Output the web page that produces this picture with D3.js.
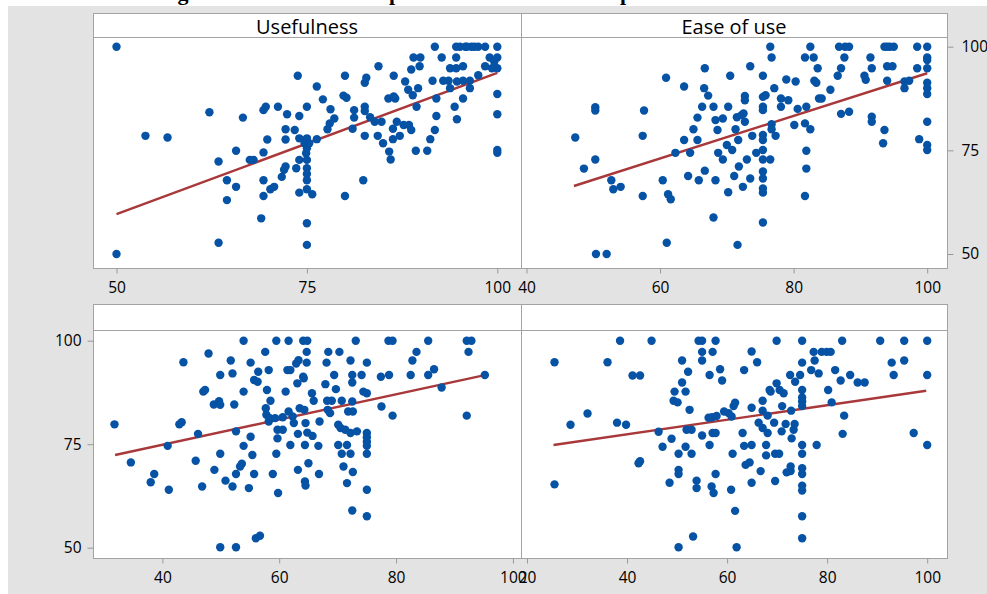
<!DOCTYPE html>
<html><head><meta charset="utf-8">
<script src="https://cdn.jsdelivr.net/npm/d3@7"></script>
<style>html,body{margin:0;padding:0;background:#fff;} svg{display:block;}</style>
</head><body><svg id="c" width="987" height="594"></svg>
<script>
// ---------------- data ----------------
const titleText = "Figure 2. The relationship between intention and perceived usefulness";
const panelTitles = ["Usefulness", "Ease of use", "", ""];
const yTicks = [50, 75, 100];
const xTicksUsefulness = [50, 75, 100];
const xTicksEase = [40, 60, 80, 100];
const xTicksPanel3 = [40, 60, 80, 100];
const xTicksPanel4 = [20, 40, 60, 80, 100];

const ptsUsefulness = [[50,100],[50,50],[53.8,78.5],[56.7,78.1],[62.2,84.2],[63.4,72.3],[63.4,52.7],[64.5,67.8],[64.5,63.0],[65.7,74.9],[65.7,66.2],[66.6,82.9],[67.5,72.7],[68.0,72.7],[69.0,58.6],[69.3,84.7],[69.6,85.5],[69.3,74.5],[69.3,67.8],[69.3,64.0],[69.8,77.6],[70.2,65.6],[70.7,66.2],[71.2,85.5],[71.7,68.6],[72.0,70.3],[72.2,71.1],[72.2,80.1],[72.2,77.6],[72.4,83.7],[73.4,79.9],[73.6,70.7],[73.8,93.0],[74.0,83.3],[74.0,77.9],[74.0,72.7],[74.0,64.8],[74.7,76.7],[74.9,74.3],[75,85.5],[75,77.9],[75,75.5],[75,72.7],[75,70.7],[75,69.3],[75,67.8],[75,65.6],[75,57.4],[75,52.2],[75.3,76.7],[75.7,64.4],[76.3,77.7],[76.3,90.4],[77.1,87.3],[77.7,80.1],[78.0,81.5],[78.1,84.9],[78.6,82.7],[79.8,88.2],[80.0,93.0],[80.0,64.0],[80.2,87.7],[81.0,80.2],[81.2,84.7],[81.2,82.9],[82.4,67.8],[82.6,91.3],[82.8,92.5],[82.6,85.5],[82.6,84.5],[82.6,78.5],[83.3,83.0],[83.9,81.9],[84.3,78.5],[84.4,95.3],[84.8,81.9],[85.0,76.7],[85.7,87.5],[85.8,74.7],[86.0,72.8],[86.3,80.2],[86.4,93.0],[86.4,88.0],[86.6,87.5],[86.3,77.7],[86.8,81.9],[87.2,78.5],[87.7,81.1],[87.9,91.6],[88.3,89.6],[88.4,81.1],[88.7,79.9],[88.9,88.3],[88.7,94.5],[89.0,97.4],[89.3,74.9],[89.4,85.5],[89.6,90.0],[89.8,95.3],[89.9,97.4],[90.8,74.9],[91.2,77.7],[91.5,91.8],[91.8,100],[91.8,79.9],[92.0,87.5],[92.0,83.3],[92.7,97.4],[92.9,91.8],[93.6,91.8],[93.8,90.0],[93.8,94.8],[94.4,85.5],[94.6,100],[94.6,97.4],[94.6,94.8],[94.7,91.6],[94.7,82.5],[95.5,95.3],[95.5,87.5],[95.5,91.8],[95.1,100],[95.8,100],[96.4,90.0],[96.6,100],[96.4,91.8],[97.5,93.1],[97.5,100],[98.4,100],[98.4,95.3],[99.0,97.4],[100,100],[100,97.4],[100,94.8],[100,88.6],[100,83.7],[100,75.1],[100,74.4],[99.3,94.8],[99.6,96.4],[96.0,100],[97.0,100]];

const ptsEase = [[47.3,78.1],[48.6,70.6],[50.3,85.4],[50.3,84.6],[50.3,72.8],[50.4,50],[52.0,50],[52.7,67.8],[53.0,65.6],[54.1,66.2],[57.4,64.0],[57.4,78.5],[57.6,84.6],[60.4,67.8],[60.9,92.5],[61.0,52.7],[61.2,64.4],[61.6,63.2],[62.3,74.4],[63.6,90.4],[63.6,77.5],[64.2,68.8],[64.5,74.4],[65.0,80.1],[65.6,82.9],[65.6,77.5],[65.8,67.8],[66.3,85.5],[66.6,90.0],[66.7,94.8],[66.7,70.1],[67.2,88.2],[68.0,58.8],[68.0,85.5],[68.3,67.8],[68.3,82.3],[68.6,79.9],[68.7,74.4],[69.4,72.8],[69.4,82.7],[70.0,76.3],[70.2,85.5],[70.2,64.9],[70.5,93.0],[70.8,75.1],[71.1,68.8],[71.3,80.1],[71.5,83.0],[71.6,52.2],[71.7,77.5],[71.8,71.1],[72.2,83.5],[72.5,83.9],[72.4,66.2],[72.7,81.9],[72.7,88.1],[72.7,87.1],[73.0,72.8],[73.5,95.3],[73.5,68.2],[73.8,78.5],[74.4,74.4],[75.4,93.0],[75.4,87.9],[75.4,85.5],[75.4,84.7],[75.4,78.7],[75.4,77.5],[75.4,75.1],[75.4,72.8],[75.4,69.9],[75.4,68.2],[75.4,65.8],[75.4,64.8],[75.4,57.6],[75.8,88.3],[76.5,100],[76.5,72.8],[76.7,97.4],[76.7,81.3],[76.7,80.1],[77.1,90.0],[77.3,78.5],[78.1,85.5],[78.1,87.5],[78.9,92.1],[79.2,87.1],[80.1,81.1],[80.3,91.6],[80.6,85.0],[81.7,97.4],[81.7,81.5],[81.7,64.0],[81.9,85.5],[81.9,74.9],[81.9,70.6],[82.5,100],[82.5,80.1],[83.0,97.4],[83.1,91.8],[83.4,91.3],[83.6,94.8],[83.8,87.5],[84.2,87.5],[85.5,89.6],[86.6,93.0],[86.8,100],[87.1,94.8],[87.1,83.8],[87.6,97.4],[87.7,100],[88.3,84.3],[88.3,100],[90.6,93.0],[90.8,92.0],[91.5,97.4],[91.7,94.8],[91.7,83.1],[91.7,81.9],[93.4,76.7],[93.6,79.9],[93.6,100],[94.0,91.8],[94.0,95.3],[94.4,100],[95.0,100],[94.8,95.3],[96.6,90.0],[96.6,91.6],[97.3,91.8],[98.5,100],[98.5,94.8],[98.8,77.7],[100,100],[100,97.4],[100,96.8],[100,94.8],[100,91.3],[100,90.0],[100,88.6],[100,81.9],[100,76.3],[100,75.1],[94.0,100]];

const ptsPanel3 = [[31.8,79.8],[34.6,70.6],[38.0,65.8],[38.6,67.8],[40.9,74.6],[41.1,64.0],[42.9,79.8],[43.3,80.3],[43.6,94.8],[45.7,71.0],[46.1,77.5],[46.8,64.8],[47.0,87.7],[47.3,88.1],[47.9,96.9],[48.8,84.6],[48.9,68.8],[49.7,85.4],[49.9,91.7],[49.9,84.5],[49.9,72.7],[49.9,50.1],[50.8,66.2],[51.7,95.2],[52.0,92.1],[52.0,64.8],[52.3,84.6],[52.6,50.1],[52.6,78.1],[52.6,67.8],[53.3,69.6],[53.6,70.3],[53.9,100],[53.9,87.7],[53.9,74.6],[54.8,64.4],[55.1,94.7],[55.1,76.8],[55.4,72.4],[55.7,90.5],[55.7,67.8],[56.0,52.3],[56.3,90.1],[56.4,92.5],[56.7,52.9],[57.6,97.3],[57.7,83.7],[57.8,82.1],[57.9,88.1],[58.2,92.9],[58.2,80.5],[58.4,81.3],[58.5,85.5],[58.9,67.8],[59.3,81.3],[59.5,72.7],[59.5,100],[59.7,78.5],[59.7,76.4],[59.8,63.2],[60.6,78.5],[60.6,81.5],[61.1,87.7],[61.4,92.9],[61.6,100],[61.6,82.9],[61.9,74.8],[61.9,92.9],[62.3,81.7],[62.5,80.1],[62.9,94.5],[63.1,89.7],[63.2,68.8],[63.2,77.5],[63.3,95.3],[63.5,83.7],[64.1,100],[64.1,91.3],[64.2,90.9],[64.3,83.3],[64.4,66.0],[64.4,74.8],[64.5,80.1],[64.5,65.0],[64.7,94.7],[64.7,97.3],[64.8,100],[64.8,77.8],[65.0,70.4],[65.6,87.3],[65.7,77.0],[65.9,85.5],[66.7,74.6],[66.8,67.8],[66.9,80.5],[67.9,89.5],[68.1,94.7],[68.2,85.5],[68.3,83.3],[68.4,97.3],[68.7,82.5],[69.0,85.5],[69.4,91.7],[69.7,88.3],[70.1,79.7],[70.1,74.8],[70.3,97.3],[70.5,78.9],[70.7,85.5],[70.7,72.7],[71.0,69.6],[71.3,78.5],[71.6,74.8],[71.6,65.6],[71.8,82.9],[72.2,95.2],[72.2,72.7],[72.2,77.7],[72.5,85.3],[72.5,89.9],[72.5,91.7],[72.5,59.0],[72.6,68.3],[72.6,82.9],[73.1,100],[73.3,78.1],[74.1,91.7],[74.4,87.7],[75,94.7],[75,87.3],[75,77.7],[75,76.7],[75,75.6],[75,74.6],[75,72.7],[75,64.0],[75,57.6],[77.4,91.3],[77.5,84.1],[78.8,91.7],[78.7,100],[79.4,100],[79.4,81.9],[82.5,91.7],[82.8,95.2],[83.5,97.3],[85.5,100],[85.5,91.7],[86.5,93.1],[87.8,88.7],[92.1,81.9],[92.1,100],[92.9,100],[92.4,97.3],[95.2,91.7]];

const ptsPanel4 = [[25.5,94.8],[25.5,65.3],[28.7,79.7],[32.1,82.4],[36.1,94.8],[38.0,80.2],[38.6,100],[39.8,79.7],[41.1,91.6],[42.6,91.6],[42.3,70.4],[42.6,70.9],[44.9,100],[46.3,78.0],[47.1,74.4],[48.5,65.7],[48.9,76.3],[49.3,85.5],[49.5,87.7],[50.1,85.1],[50.3,72.7],[50.3,68.8],[50.3,67.8],[50.3,50.1],[51.0,95.2],[51.0,89.9],[51.7,87.7],[51.7,74.4],[51.9,78.5],[52.2,92.5],[52.5,83.3],[52.9,72.7],[52.9,78.5],[53.2,52.7],[53.9,66.2],[53.9,64.4],[54.3,100],[55.0,100],[55.0,97.3],[55.0,95.2],[55.0,77.1],[56.3,81.4],[56.5,91.7],[56.5,74.8],[56.9,64.8],[57.0,81.5],[57.1,77.7],[57.3,63.2],[57.7,100],[57.1,97.3],[57.7,77.7],[57.7,67.8],[57.9,81.8],[58.6,93.1],[59.0,90.4],[59.4,82.9],[60.3,82.5],[60.8,64.0],[60.9,81.7],[61.1,72.7],[61.3,84.2],[61.6,85.0],[61.6,58.9],[61.9,50.1],[63.1,77.7],[63.4,92.9],[63.4,74.6],[63.7,70.0],[64.5,70.6],[64.9,97.4],[64.9,83.8],[64.9,74.8],[64.9,65.7],[66.0,94.8],[66.3,80.2],[66.7,68.5],[67.1,85.5],[67.1,83.1],[67.1,78.9],[67.8,74.8],[67.8,72.3],[68.1,81.9],[68.1,77.7],[68.5,88.1],[68.7,87.7],[69.4,80.2],[69.6,66.1],[69.6,72.7],[69.9,100],[69.9,89.7],[70.4,72.7],[70.5,88.1],[70.9,78.1],[71.0,84.2],[71.3,87.3],[71.7,79.9],[71.9,68.2],[72.6,91.7],[72.7,68.5],[72.7,69.6],[72.8,83.1],[72.9,76.4],[73.3,78.5],[73.5,79.9],[73.6,90.1],[74.6,91.7],[75,100],[75,94.7],[75,88.1],[75,86.3],[75,85.3],[75,84.2],[75,74.8],[75,72.7],[75,69.2],[75,67.8],[75,65.0],[75,63.8],[75,57.6],[75,52.3],[76.8,92.9],[77.3,97.3],[77.5,95.2],[77.9,74.8],[78.3,92.1],[78.9,97.3],[79.9,97.3],[80.7,97.3],[80.2,88.1],[80.9,85.1],[81.6,92.9],[82.7,90.4],[83.0,100],[83.1,77.5],[83.4,81.9],[84.6,91.7],[86.1,89.9],[87.5,89.9],[90.6,100],[92.9,94.7],[93.3,91.7],[95.4,100],[95.4,95.2],[97.3,77.7],[100,100],[100,91.7],[100,74.8]];

const fitUsefulness = [[50,59.6],[100,93.7]];
const fitEase = [[47.1,66.4],[100,93.6]];
const fitPanel3 = [[31.9,72.4],[94.6,91.5]];
const fitPanel4 = [[25.3,74.8],[99.8,87.9]];

// ---------------- layout ----------------
const svg = d3.select("#c");
const FONT = "'Open Sans', 'Noto Sans', sans-serif";
const BORDER = "#a3a3a3";
const colL = 93, colM = 521, colR = 947;
const rows = [
  {head: [13, 37], plot: [37, 268], y: d3.scaleLinear().domain([50,100]).range([254, 46.7])},
  {head: [304, 330], plot: [330, 558], y: d3.scaleLinear().domain([50,100]).range([547.7, 340.7])}
];
const panels = [
  {row: 0, x0: colL, x1: colM, title: panelTitles[0], pts: ptsUsefulness, fit: fitUsefulness, ticks: xTicksUsefulness,
   x: d3.scaleLinear().domain([50,100]).range([116.5, 497.3])},
  {row: 0, x0: colM, x1: colR, title: panelTitles[1], pts: ptsEase, fit: fitEase, ticks: xTicksEase,
   x: d3.scaleLinear().domain([40,100]).range([526.5, 927.2])},
  {row: 1, x0: colL, x1: colM, title: panelTitles[2], pts: ptsPanel3, fit: fitPanel3, ticks: xTicksPanel3,
   x: d3.scaleLinear().domain([40,100]).range([162.4, 512.9])},
  {row: 1, x0: colM, x1: colR, title: panelTitles[3], pts: ptsPanel4, fit: fitPanel4, ticks: xTicksPanel4,
   x: d3.scaleLinear().domain([20,100]).range([527, 927.2])}
];

// background
svg.append("rect").attr("x", 8).attr("y", 6).attr("width", 979).attr("height", 588).attr("fill", "#e3e3e3");

// panels
panels.forEach(p => {
  const r = rows[p.row];
  const g = svg.append("g");
  g.append("rect").attr("x", p.x0 + 0.5).attr("y", r.head[0] + 0.5)
    .attr("width", p.x1 - p.x0).attr("height", r.head[1] - r.head[0])
    .attr("fill", "#fff").attr("stroke", BORDER);
  g.append("rect").attr("x", p.x0 + 0.5).attr("y", r.plot[0] + 0.5)
    .attr("width", p.x1 - p.x0).attr("height", r.plot[1] - r.plot[0])
    .attr("fill", "#fff").attr("stroke", BORDER);
  if (p.title) {
    g.append("text").attr("x", (p.x0 + p.x1) / 2).attr("y", (r.head[0] + r.head[1]) / 2 + 1)
      .attr("text-anchor", "middle").attr("dominant-baseline", "central")
      .style("font-family", FONT).style("font-size", "20px").attr("fill", "#000").text(p.title);
  }
  // x axis
  const ax = g.append("g").attr("transform", `translate(0,${r.plot[1] + 0.5})`)
    .call(d3.axisBottom(p.x).tickValues(p.ticks).tickSize(5).tickPadding(8).tickFormat(d3.format("d")));
  ax.select(".domain").remove();
  ax.selectAll(".tick line").attr("stroke", "#999");
  ax.selectAll(".tick text").style("font-family", FONT).style("font-size", "15.5px").attr("fill", "#000");

  // fit line
  g.append("path").datum(p.fit)
    .attr("d", d3.line().x(d => p.x(d[0])).y(d => r.y(d[1])))
    .attr("fill", "none").attr("stroke", "#a8383a").attr("stroke-width", 2.4);

  // points
  g.selectAll("circle").data(p.pts).join("circle")
    .attr("cx", d => p.x(d[0])).attr("cy", d => r.y(d[1])).attr("r", 4.2)
    .attr("fill", "#0652a5");
});

// y axes
const ayR = svg.append("g").attr("transform", `translate(${colR + 0.5},0)`)
  .call(d3.axisRight(rows[0].y).tickValues(yTicks).tickSize(6).tickPadding(8));
ayR.select(".domain").remove();
ayR.selectAll(".tick line").attr("stroke", "#999");
ayR.selectAll(".tick text").style("font-family", FONT).style("font-size", "15.5px").attr("fill", "#000");

const ayL = svg.append("g").attr("transform", `translate(${colL + 0.5},0)`)
  .call(d3.axisLeft(rows[1].y).tickValues(yTicks).tickSize(6).tickPadding(6));
ayL.select(".domain").remove();
ayL.selectAll(".tick line").attr("stroke", "#999");
ayL.selectAll(".tick text").style("font-family", FONT).style("font-size", "15.5px").attr("fill", "#000");

// title (mostly above the visible area, as in the reference)
svg.append("text").attr("x", 158).attr("y", 0)
  .style("font-family", "'Liberation Serif', 'DejaVu Serif', serif").style("font-weight", "bold").style("font-size", "22px")
  .attr("fill", "#000").text(titleText);
</script>
</body></html>
